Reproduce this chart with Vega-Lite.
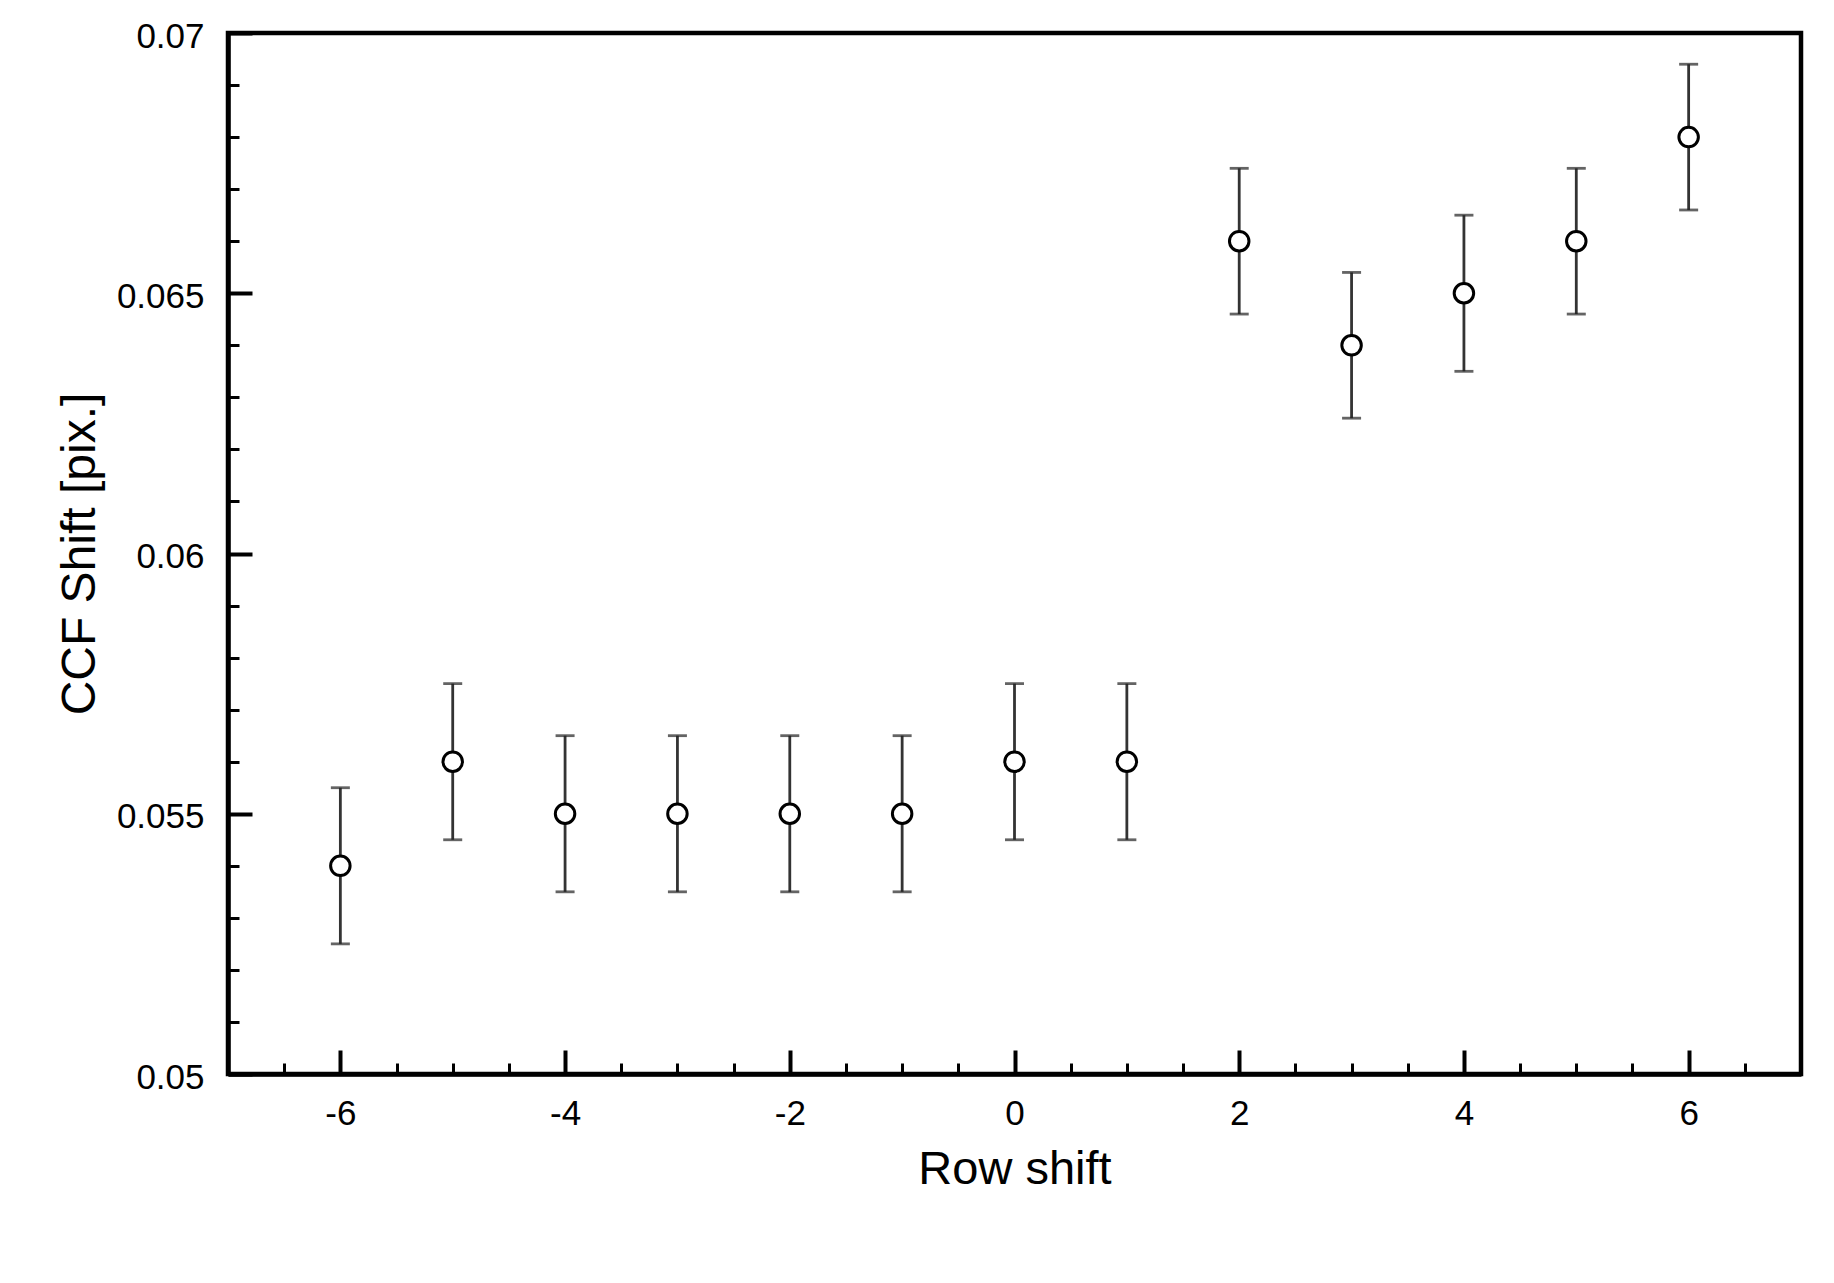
{
  "$schema": "https://vega.github.io/schema/vega-lite/v6.json",
  "width": 1573,
  "height": 1041,
  "autosize": {"type": "none"},
  "padding": {"left": 228, "top": 33, "right": 33, "bottom": 209},
  "background": "white",
  "config": {
    "view": {"stroke": "black", "strokeWidth": 4.5},
    "font": "Liberation Sans",
    "axis": {
      "grid": false,
      "labelFont": "Liberation Sans",
      "titleFont": "Liberation Sans",
      "labelColor": "black",
      "titleColor": "black",
      "titleFontWeight": "normal",
      "domainColor": "black",
      "tickColor": "black"
    }
  },
  "data": {
    "values": [
      {"row": -6, "shift": 0.054, "low": 0.0525, "high": 0.0555},
      {"row": -5, "shift": 0.056, "low": 0.0545, "high": 0.0575},
      {"row": -4, "shift": 0.055, "low": 0.0535, "high": 0.0565},
      {"row": -3, "shift": 0.055, "low": 0.0535, "high": 0.0565},
      {"row": -2, "shift": 0.055, "low": 0.0535, "high": 0.0565},
      {"row": -1, "shift": 0.055, "low": 0.0535, "high": 0.0565},
      {"row": 0, "shift": 0.056, "low": 0.0545, "high": 0.0575},
      {"row": 1, "shift": 0.056, "low": 0.0545, "high": 0.0575},
      {"row": 2, "shift": 0.066, "low": 0.0646, "high": 0.0674},
      {"row": 3, "shift": 0.064, "low": 0.0626, "high": 0.0654},
      {"row": 4, "shift": 0.065, "low": 0.0635, "high": 0.0665},
      {"row": 5, "shift": 0.066, "low": 0.0646, "high": 0.0674},
      {"row": 6, "shift": 0.068, "low": 0.0666, "high": 0.0694}
    ]
  },
  "resolve": {"axis": {"x": "independent", "y": "independent"}},
  "layer": [
    {
      "mark": {"type": "rule", "color": "#333333", "strokeWidth": 2.8},
      "encoding": {
        "x": {
          "field": "row", "type": "quantitative",
          "scale": {"domain": [-7, 7], "nice": false, "zero": false},
          "axis": {
            "orient": "bottom",
            "values": [-6, -4, -2, 0, 2, 4, 6],
            "ticks": false,
            "domain": true,
            "domainWidth": 4.5,
            "labelFontSize": 35,
            "labelPadding": 22,
            "labelExpr": "'' + datum.value",
            "title": "Row shift",
            "titleFontSize": 47,
            "titlePadding": 15
          }
        },
        "y": {
          "field": "low", "type": "quantitative",
          "scale": {"domain": [0.05, 0.07], "nice": false, "zero": false},
          "axis": {
            "orient": "left",
            "values": [0.05, 0.055, 0.06, 0.065, 0.07],
            "ticks": false,
            "domain": true,
            "domainWidth": 4.5,
            "labelFontSize": 35,
            "labelPadding": 24,
            "labelOffset": 3,
            "labelExpr": "'' + datum.value",
            "title": "CCF Shift [pix.]",
            "titleFontSize": 48,
            "titlePadding": 12
          }
        },
        "y2": {"field": "high"}
      }
    },
    {
      "mark": {"type": "tick", "orient": "horizontal", "color": "#222222", "thickness": 2.8, "size": 19},
      "encoding": {
        "x": {
          "field": "row", "type": "quantitative",
          "axis": {
            "orient": "bottom",
            "values": [-6, -4, -2, 0, 2, 4, 6],
            "labels": false,
            "domain": false,
            "tickSize": -24,
            "tickWidth": 4,
            "title": null
          }
        },
        "y": {
          "field": "low", "type": "quantitative",
          "axis": {
            "orient": "left",
            "values": [0.05, 0.055, 0.06, 0.065, 0.07],
            "labels": false,
            "domain": false,
            "tickSize": -24,
            "tickWidth": 4,
            "title": null
          }
        }
      }
    },
    {
      "mark": {"type": "tick", "orient": "horizontal", "color": "#222222", "thickness": 2.8, "size": 19},
      "encoding": {
        "x": {
          "field": "row", "type": "quantitative",
          "axis": {
            "orient": "bottom",
            "values": [-6.5, -5.5, -5, -4.5, -3.5, -3, -2.5, -1.5, -1, -0.5, 0.5, 1, 1.5, 2.5, 3, 3.5, 4.5, 5, 5.5, 6.5],
            "labels": false,
            "domain": false,
            "tickSize": -11,
            "tickWidth": 3,
            "title": null
          }
        },
        "y": {
          "field": "high", "type": "quantitative",
          "axis": {
            "orient": "left",
            "values": [0.051, 0.052, 0.053, 0.054, 0.056, 0.057, 0.058, 0.059, 0.061, 0.062, 0.063, 0.064, 0.066, 0.067, 0.068, 0.069],
            "labels": false,
            "domain": false,
            "tickSize": -11,
            "tickWidth": 3,
            "title": null
          }
        }
      }
    },
    {
      "mark": {"type": "point", "shape": "circle", "filled": true, "fill": "white", "stroke": "black", "strokeWidth": 3, "size": 380, "opacity": 1},
      "encoding": {
        "x": {"field": "row", "type": "quantitative", "axis": null},
        "y": {"field": "shift", "type": "quantitative", "axis": null}
      }
    }
  ]
}
